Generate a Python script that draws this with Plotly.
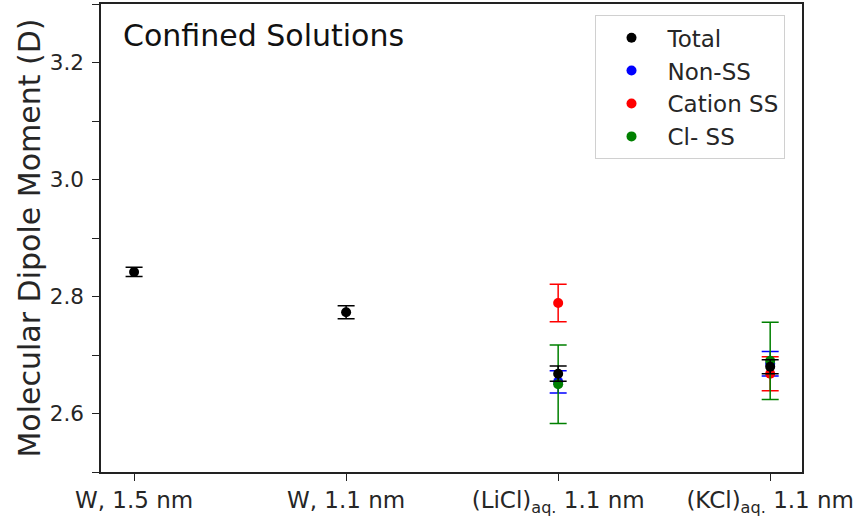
import plotly.graph_objects as go

categories = ["W, 1.5 nm", "W, 1.1 nm", "(LiCl)<sub>aq.</sub> 1.1 nm", "(KCl)<sub>aq.</sub> 1.1 nm"]
x_pos = [0, 1, 2, 3]

total_y = [2.842, 2.773, 2.668, 2.680]
total_err = [0.008, 0.011, 0.013, 0.012]

nonss_x = [2, 3]
nonss_y = [2.654, 2.685]
nonss_err = [0.019, 0.021]

cation_x = [2, 3]
cation_y = [2.789, 2.668]
cation_err = [0.032, 0.029]

cl_x = [2, 3]
cl_y = [2.650, 2.690]
cl_err = [0.067, 0.066]

series = [
    ("Non-SS", nonss_x, nonss_y, nonss_err, "#0000ff", 2),
    ("Cation SS", cation_x, cation_y, cation_err, "#ff0000", 3),
    ("Cl- SS", cl_x, cl_y, cl_err, "#008000", 4),
    ("Total", x_pos, total_y, total_err, "#000000", 1),
]

fig = go.Figure()
for name, xs, ys, errs, color, rank in series:
    fig.add_trace(go.Scatter(
        x=xs, y=ys, mode="markers", name=name, legendrank=rank,
        marker=dict(color=color, size=10),
        error_y=dict(type="data", array=errs, visible=True, color=color, thickness=1.5, width=8.5),
    ))

font_family = "DejaVu Sans"
text_color = "#262626"
fig.update_layout(
    width=868, height=516,
    margin=dict(l=101, r=66, t=4, b=44, autoexpand=False),
    paper_bgcolor="white", plot_bgcolor="white",
    font=dict(family=font_family, size=21, color=text_color),
    showlegend=True,
    legend=dict(
        x=0.704, y=0.976, xanchor="left", yanchor="top",
        bordercolor="#d0d0d0", borderwidth=1, bgcolor="white",
        font=dict(size=23, family=font_family, color=text_color),
        itemwidth=62,
    ),
    annotations=[dict(
        text="Confined Solutions", xref="paper", yref="paper",
        x=0.029, y=0.933, xanchor="left", yanchor="middle", showarrow=False,
        font=dict(size=30, family=font_family, color="#111111"),
    )],
)
fig.update_xaxes(
    range=[-0.156, 3.15], tickvals=x_pos, ticktext=categories,
    showline=True, linecolor="#222222", linewidth=1.5, mirror=True,
    ticks="outside", ticklen=7, tickwidth=1.2, tickcolor="#222222",
    showgrid=False, zeroline=False, tickfont=dict(size=23), automargin=False,
)
fig.update_yaxes(
    range=[2.5, 3.3], tick0=2.6, dtick=0.2, tickformat=".1f",
    showline=True, linecolor="#222222", linewidth=1.5, mirror=True,
    ticks="outside", ticklen=7, tickwidth=1.2, tickcolor="#222222",
    minor=dict(dtick=0.1, tick0=2.5, ticks="outside", ticklen=7, tickwidth=1.2, tickcolor="#222222", showgrid=False),
    showgrid=False, zeroline=False, tickfont=dict(size=21.5), automargin=False,
    ticklabelstandoff=4,
    title=dict(text="Molecular Dipole Moment (D)", font=dict(size=30), standoff=0),
)
fig.write_html("out.html", config={"displayModeBar": False},
               post_script="document.body.style.margin='0';document.body.style.padding='0';")
